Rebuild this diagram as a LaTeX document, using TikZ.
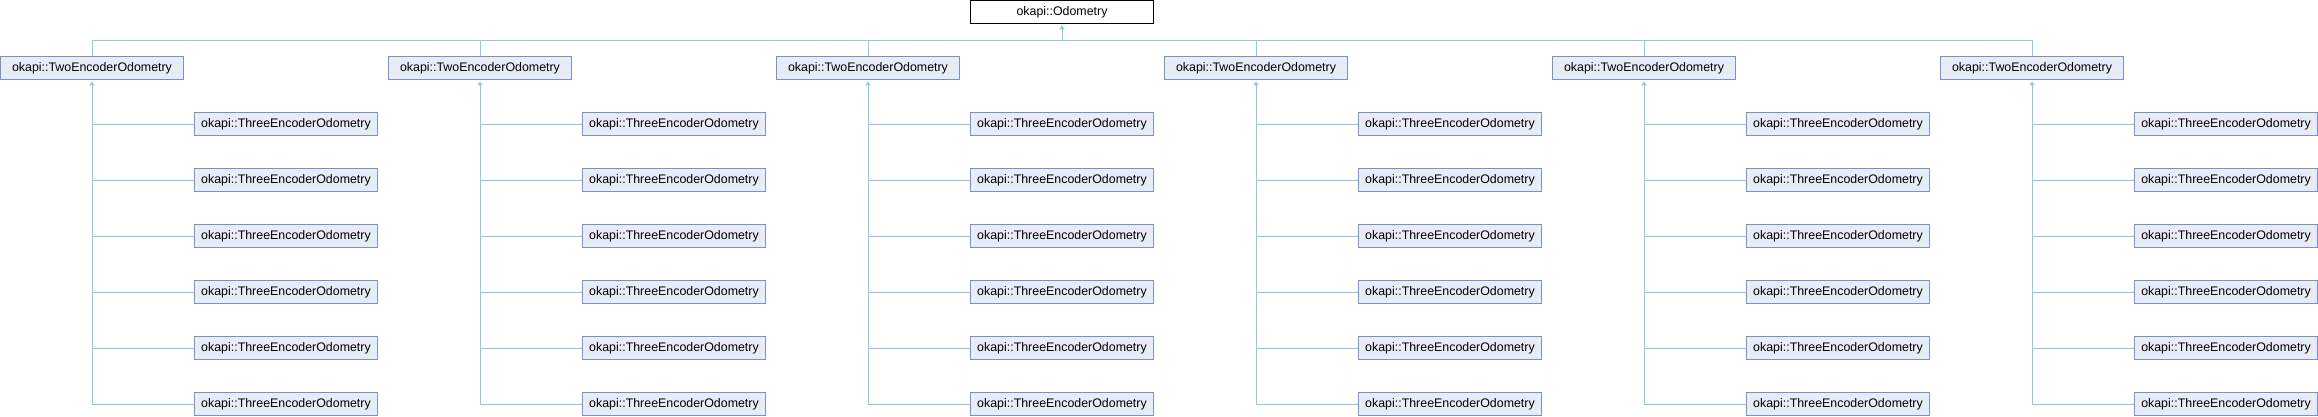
\documentclass[tikz,border=0pt]{standalone}
\usepackage{fontspec}
\setmainfont{Liberation Sans}
\usetikzlibrary{arrows.meta}
\definecolor{boxfill}{RGB}{232,236,244}
\definecolor{boxedge}{RGB}{122,144,200}
\definecolor{linkblue}{RGB}{140,200,235}

\begin{document}
\begin{tikzpicture}[x=1pt, y=-1pt,
  cls/.style={draw=boxedge, fill=boxfill, line width=1pt, minimum width=183pt,
              minimum height=22.7pt, inner sep=0pt, font=\fontsize{12.4}{14}\selectfont},
  base/.style={cls, draw=black, fill=white},
  link/.style={draw=linkblue, line width=1pt},
  inherit/.style={link, -{Triangle[length=4pt, width=5pt]}, shorten >=1.5pt},
]
\useasboundingbox (0,0) rectangle (2318,416);

% Base class
\node[base] (odo) at (1062,12) {okapi::Odometry};
\coordinate (bus) at (1062,40);
\draw[inherit] (bus) -- (odo.south);

% Derived classes
\foreach \i in {0,...,5} {
  \node[cls] (two\i) at (92+388*\i, 68) {okapi::TwoEncoderOdometry};
  \draw[link] (two\i.north) |- (bus);
  \foreach \j in {0,...,5} {
    \node[cls] (three\i\j) at (286+388*\i, 124+56*\j) {okapi::ThreeEncoderOdometry};
  }
  \draw[inherit] (three\i5.west) -| (two\i.south);
  \foreach \j in {0,...,4}
    \draw[link] (three\i\j.west) -- (three\i\j.west -| two\i.south);
}
\end{tikzpicture}
\end{document}
